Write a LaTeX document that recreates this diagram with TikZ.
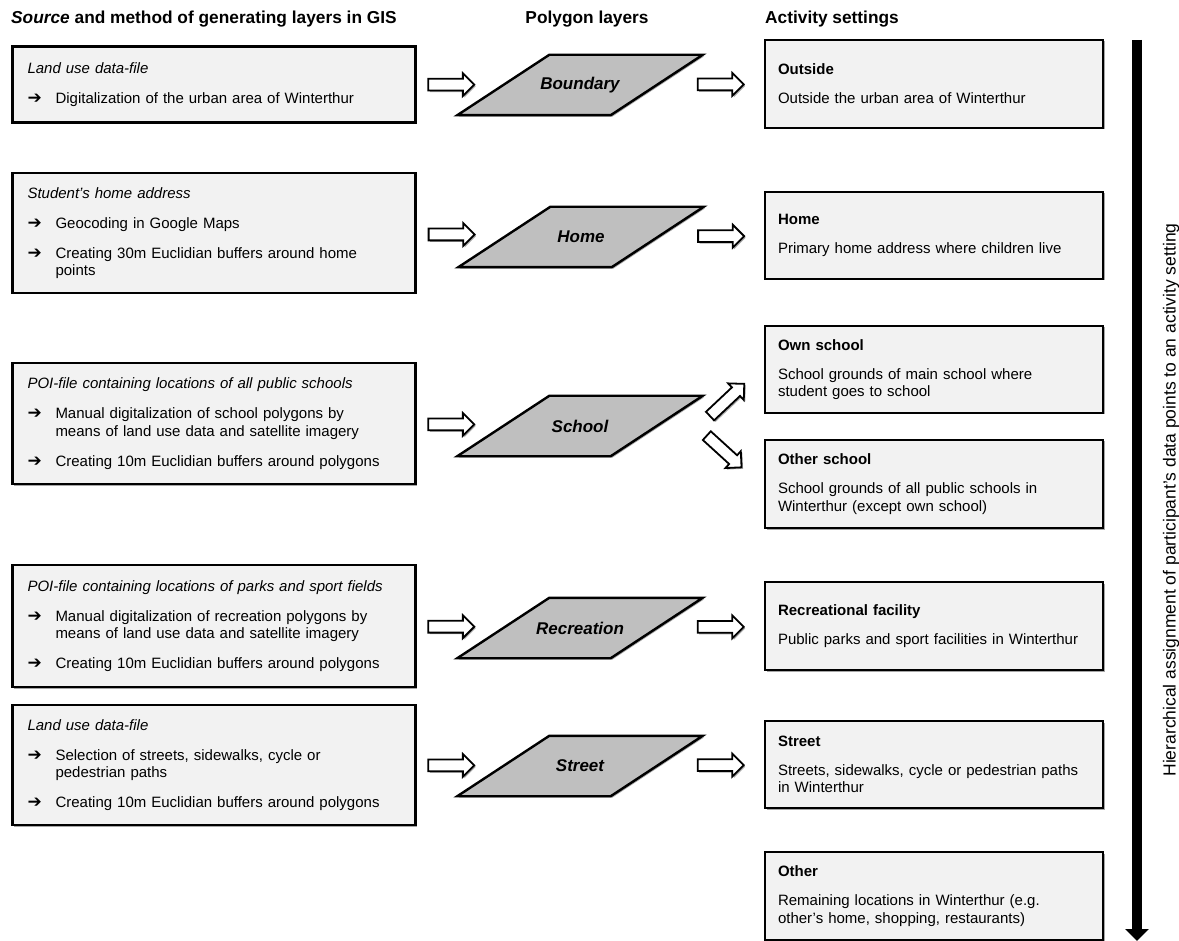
\documentclass[tikz,border=0pt]{standalone}
\usepackage{fontspec}
\setmainfont{Liberation Sans}
\newfontfamily\symfont{DejaVu Sans}
\usetikzlibrary{arrows.meta,shadows,backgrounds,shapes.arrows}
\definecolor{boxgray}{HTML}{F2F2F2}
\definecolor{paragray}{HTML}{BFBFBF}
\newcommand\bul[1]{\par\vspace{12.5pt}\hangindent=28pt\hangafter=1\noindent\makebox[28pt][l]{\symfont\fontsize{17}{15}\selectfont ➔}#1}
\newcommand\rbody[1]{\par\vspace{11.5pt}\noindent #1\par}
\tikzset{
  hdr/.style={inner sep=0pt, font=\fontsize{17.3}{20}\selectfont\bfseries},
  shadowed/.style={drop shadow={shadow xshift=1.5pt, shadow yshift=-1.5pt, opacity=0.35, fill=black}},
  srcbox/.style={draw=black, line width=2.4pt, fill=boxgray, shadowed, minimum width=403pt,
    text width=373pt, inner xsep=15pt, inner ysep=4pt, align=left,
    font=\fontsize{15}{17.5}\selectfont},
  actbox/.style={draw=black, line width=2.4pt, fill=boxgray, shadowed, minimum width=338pt,
    text width=312pt, inner xsep=13pt, inner ysep=4pt, align=left,
    font=\fontsize{15}{17.5}\selectfont},
  paranode/.style={minimum width=153pt, minimum height=60pt, inner sep=0pt,
    font=\fontsize{17}{20}\selectfont\bfseries\itshape},
  parashape/.style={draw=black, line width=2.4pt, fill=paragray, line join=miter, shadowed},
  harrow/.style={single arrow, draw=black, fill=white, line width=1.8pt, inner xsep=0pt, inner ysep=5pt,
    single arrow head extend=5.5pt, minimum height=46pt,
    drop shadow={shadow xshift=1.5pt, shadow yshift=-1.5pt, opacity=0.35, fill=black}},
}
\begin{document}
\begin{tikzpicture}[x=1pt,y=-1pt]
\useasboundingbox (0,0) rectangle (1179,941);

% headers
\node[hdr, anchor=west] (h1) at (11,19) {\textit{Source} and method of generating layers in GIS};
\node[hdr] (h2) at (587,19) {Polygon layers};
\node[hdr, anchor=west] (h3) at (765,19) {Activity settings};

% source boxes
\node[srcbox, minimum height=76pt] (L1) at (214,84.5)
  {{\itshape Land use data-file}\bul{Digitalization of the urban area of Winterthur}\par};
\node[srcbox, minimum height=120pt] (L2) at (214,233)
  {{\itshape Student’s home address}\bul{Geocoding in Google Maps}\bul{Creating 30m Euclidian buffers around home\newline points}\par};
\node[srcbox, minimum height=121pt] (L3) at (214,423.5)
  {{\itshape POI-file containing locations of all public schools}\bul{Manual digitalization of school polygons by\newline means of land use data and satellite imagery}\bul{Creating 10m Euclidian buffers around polygons}\par};
\node[srcbox, minimum height=122pt] (L4) at (214,626)
  {{\itshape POI-file containing locations of parks and sport fields}\bul{Manual digitalization of recreation polygons by\newline means of land use data and satellite imagery}\bul{Creating 10m Euclidian buffers around polygons}\par};
\node[srcbox, minimum height=120pt] (L5) at (214,765)
  {{\itshape Land use data-file}\bul{Selection of streets, sidewalks, cycle or\newline pedestrian paths}\bul{Creating 10m Euclidian buffers around polygons}\par};

% polygon layers
\node[paranode] (pB) at (580,85) {Boundary};
\node[paranode] (pH) at (581,237) {Home};
\node[paranode] (pS) at (580,426) {School};
\node[paranode] (pR) at (580,628) {Recreation};
\node[paranode] (pT) at (580,766) {Street};
\begin{scope}[on background layer]
\foreach \n in {pB,pH,pS,pR,pT}{
  \draw[parashape] ([xshift=-46pt]\n.south west) -- ([xshift=-46pt]\n.south east)
     -- ([xshift=46pt]\n.north east) -- ([xshift=46pt]\n.north west) -- cycle;
}
\end{scope}

% activity settings
\node[actbox, minimum height=88pt] (R1) at (934,84)
  {\textbf{Outside}\rbody{Outside the urban area of Winterthur}};
\node[actbox, minimum height=87pt] (R2) at (934,235.5)
  {\textbf{Home}\rbody{Primary home address where children live}};
\node[actbox, minimum height=87pt] (R3) at (934,369.5)
  {\textbf{Own school}\rbody{School grounds of main school where\newline student goes to school}};
\node[actbox, minimum height=88pt] (R4) at (934,484)
  {\textbf{Other school}\rbody{School grounds of all public schools in\newline Winterthur (except own school)}};
\node[actbox, minimum height=88pt] (R5) at (934,626)
  {\textbf{Recreational facility}\rbody{Public parks and sport facilities in Winterthur}};
\node[actbox, minimum height=87pt] (R6) at (934,764.5)
  {\textbf{Street}\rbody{Streets, sidewalks, cycle or pedestrian paths\newline in Winterthur}};
\node[actbox, minimum height=88pt] (R7) at (934,896)
  {\textbf{Other}\rbody{Remaining locations in Winterthur (e.g.\newline other’s home, shopping, restaurants)}};

% hollow arrows: source -> layer
\path (L1.east) -- node[harrow, pos=0.365] {} (pB.west);
\path (L2.east) -- node[harrow, pos=0.365] {} (pH.west);
\path (L3.east) -- node[harrow, pos=0.365] {} (pS.west);
\path (L4.east) -- node[harrow, pos=0.365] {} (pR.west);
\path (L5.east) -- node[harrow, pos=0.365] {} (pT.west);
% layer -> setting
\path (pB.east) -- node[harrow, pos=0.57] {} (R1.west);
\path (pH.east) -- node[harrow, pos=0.57] {} (R2.west);
\path (pR.east) -- node[harrow, pos=0.57] {} (R5.west);
\path (pT.east) -- node[harrow, pos=0.57] {} (R6.west);
\coordinate (su1) at (708,418);
\coordinate (su2) at (742,386);
\coordinate (sd1) at (705,434);
\coordinate (sd2) at (739,465);
\path (su1) -- node[harrow, sloped, minimum height=47pt] {} (su2);
\path (sd1) -- node[harrow, sloped, minimum height=47pt] {} (sd2);

% hierarchy arrow
\coordinate (vt) at (1137,40);
\coordinate (vb) at (1137,941);
\draw[line width=10pt, -{Triangle[width=23pt,length=12pt]}] (vt) -- (vb);
\node[rotate=90, inner sep=0pt, font=\fontsize{17.5}{20}\selectfont] (vl) at (1171,500)
  {Hierarchical assignment of participant’s data points to an activity setting};
\end{tikzpicture}
\end{document}
